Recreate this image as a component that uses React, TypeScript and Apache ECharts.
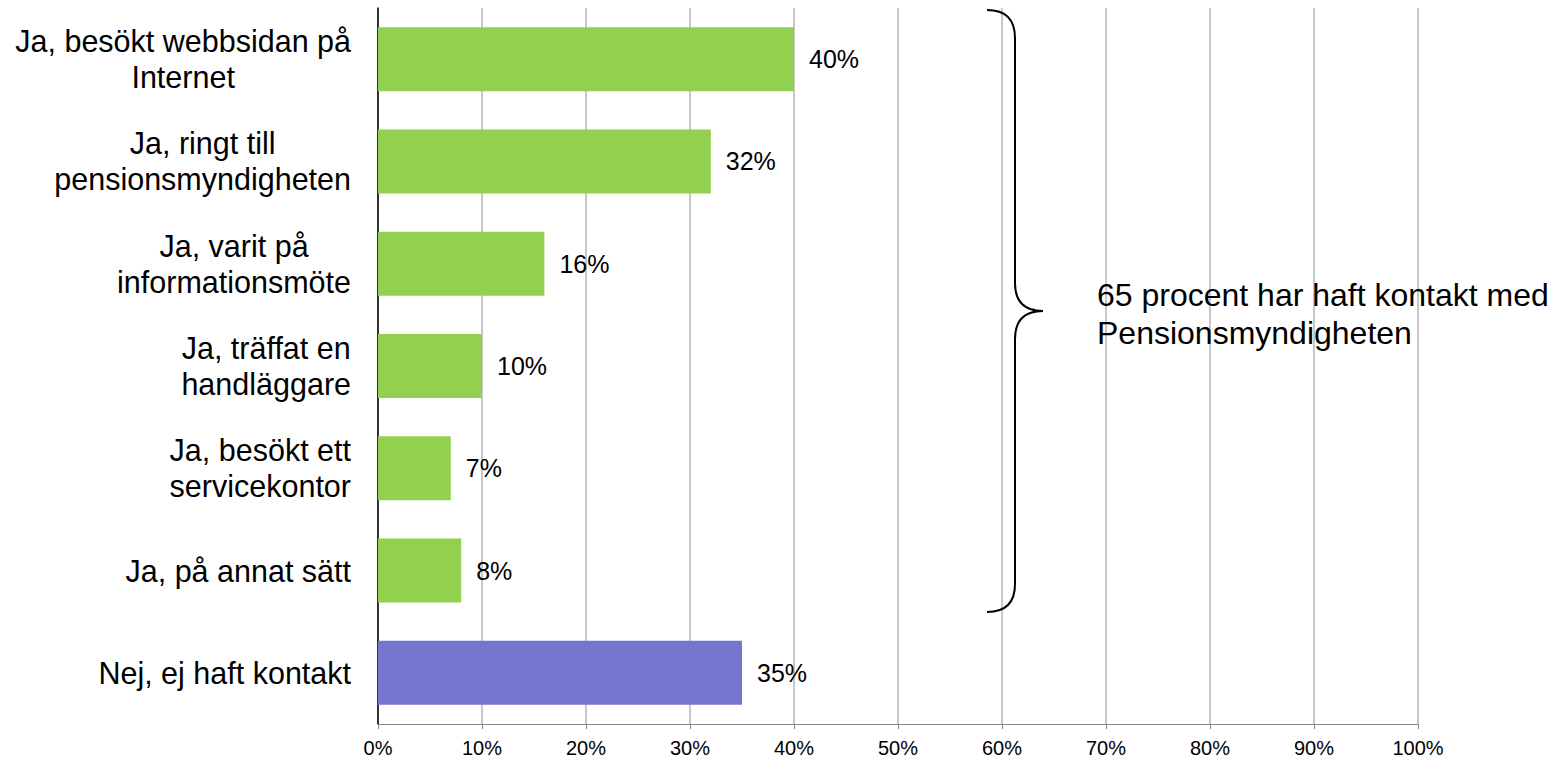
import React, { useEffect, useRef } from "react";
import * as echarts from "echarts";

const categories: string[] = [
  "Ja, besökt webbsidan på\nInternet",
  "Ja, ringt till\npensionsmyndigheten",
  "Ja, varit på\ninformationsmöte",
  "Ja, träffat en\nhandläggare",
  "Ja, besökt ett\nservicekontor",
  "Ja, på annat sätt",
  "Nej, ej haft kontakt",
];
const values: number[] = [40, 32, 16, 10, 7, 8, 35];
const hadContact: boolean[] = [true, true, true, true, true, true, false];
const xTicks = { min: 0, max: 100, interval: 10 };
const annotation = "65 procent har haft kontakt med\nPensionsmyndigheten";

const FONT = "'Liberation Sans', Arial, Helvetica, sans-serif";
const GREEN = "#92d050";
const PURPLE = "#7676cf";

const BRACE_D =
  "M 987 10 Q 1015 10 1015 38 L 1015 283 Q 1015 311 1043 311 Q 1015 311 1015 339 L 1015 584 Q 1015 612 987 612";

let registered = false;
function registerBrace() {
  if (registered) return;
  echarts.graphic.registerShape("brace", echarts.graphic.extendPath(BRACE_D, {}));
  registered = true;
}

export default function App() {
  const ref = useRef<HTMLDivElement>(null);
  useEffect(() => {
    if (!ref.current) return;
    registerBrace();
    const chart = echarts.init(ref.current, undefined, { renderer: "svg" });
    chart.setOption({
      animation: false,
      backgroundColor: "#ffffff",
      grid: { left: 378, right: 140, top: 8, bottom: 36, containLabel: false },
      xAxis: {
        type: "value",
        min: xTicks.min,
        max: xTicks.max,
        interval: xTicks.interval,
        axisLine: { show: true, lineStyle: { color: "#868686", width: 1 } },
        axisTick: { show: true, length: 5, lineStyle: { color: "#868686" } },
        axisLabel: {
          formatter: "{value}%",
          color: "#000",
          fontSize: 20,
          fontFamily: FONT,
          margin: 14,
        },
        splitLine: { show: true, lineStyle: { color: "#c8c8c8", width: 2 } },
      },
      yAxis: {
        type: "category",
        inverse: true,
        data: categories,
        axisLine: { show: true, lineStyle: { color: "#000", width: 1.5 } },
        axisTick: { show: false },
        splitLine: { show: false },
        axisLabel: {
          margin: 27,
          align: "right",
          color: "#000",
          fontSize: 30.5,
          fontFamily: FONT,
          formatter: (v: string) =>
            v
              .split("\n")
              .map((l) => `{c|${l}}`)
              .join("\n"),
          rich: {
            c: {
              align: "center",
              fontSize: 30.5,
              lineHeight: 36,
              fontFamily: FONT,
              color: "#000",
            },
          },
        },
      },
      series: [
        {
          type: "bar",
          barWidth: 64,
          data: values.map((v, i) => ({
            value: v,
            itemStyle: { color: hadContact[i] ? GREEN : PURPLE },
          })),
          label: {
            show: true,
            position: "right",
            distance: 15,
            formatter: "{c}%",
            color: "#000",
            fontSize: 25,
            fontFamily: FONT,
          },
          z: 3,
        },
      ],
      graphic: [
        {
          type: "brace",
          x: 0,
          y: 0,
          scaleX: 1,
          scaleY: 1,
          style: { fill: "none", stroke: "#000", lineWidth: 2 },
          z: 10,
        },
        {
          type: "text",
          x: 1097,
          y: 276,
          style: {
            text: annotation,
            font: `32px ${FONT}`,
            lineHeight: 38,
            fill: "#000",
          },
          z: 10,
        },
      ],
    });
    return () => chart.dispose();
  }, []);
  return (
    <div
      ref={ref}
      style={{ position: "fixed", left: 0, top: 0, width: 1558, height: 760 }}
    />
  );
}
